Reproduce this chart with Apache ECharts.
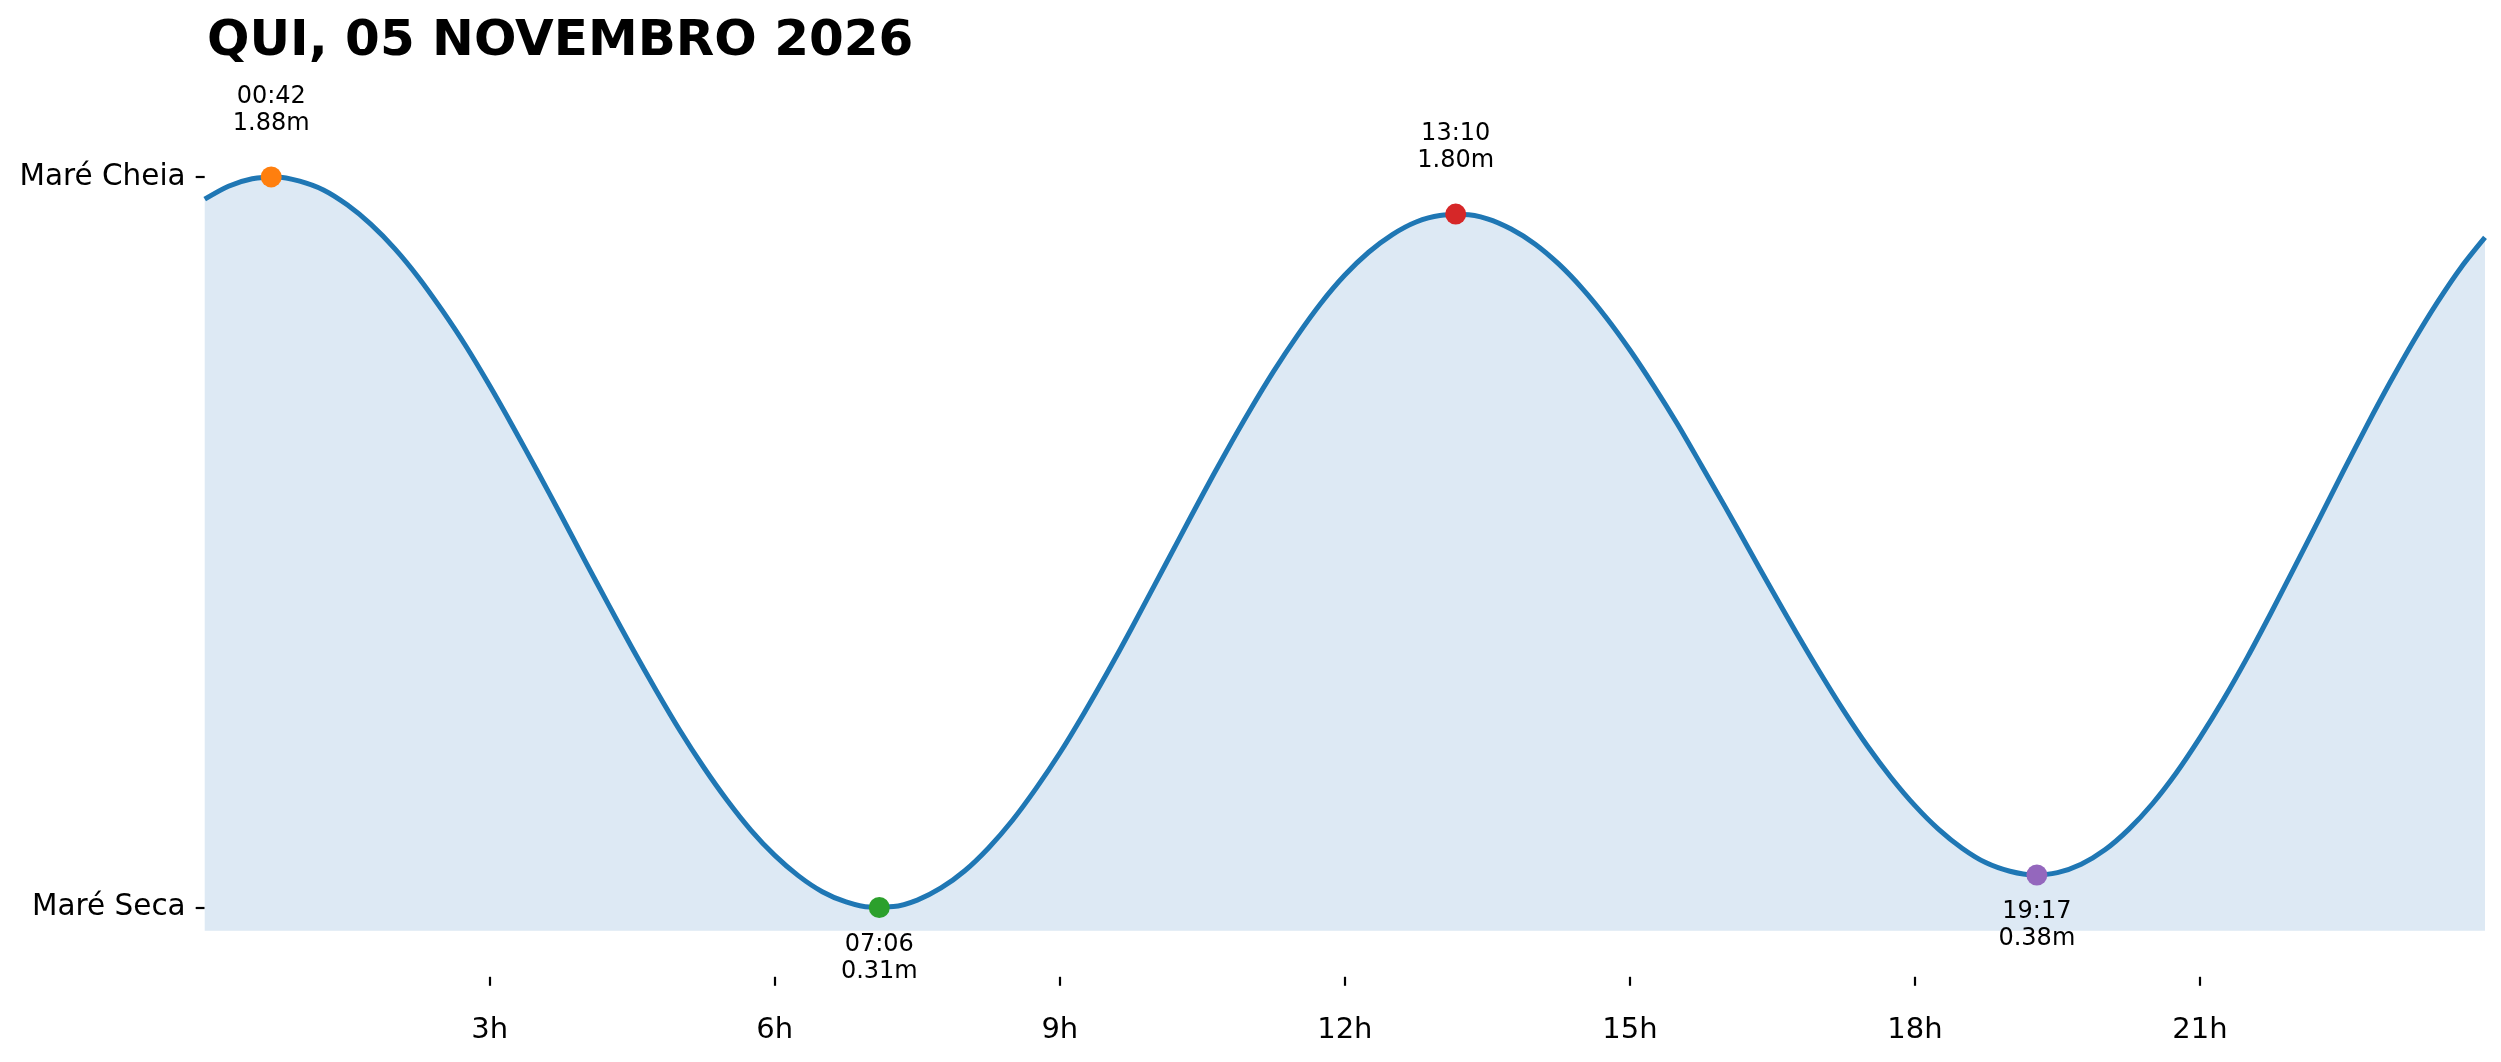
<!DOCTYPE html>
<html>
<head>
<meta charset="utf-8">
<script src="https://cdn.jsdelivr.net/npm/echarts@6/dist/echarts.min.js"></script>
<style>
html,body{margin:0;padding:0;background:#fff;}
#chart{width:2501px;height:1062px;}
</style>
</head>
<body>
<div id="chart"></div>
<script>
// ---- data ----
const titleText = 'QUI, 05 NOVEMBRO 2026';
const timeHours = [
  0, 0.25, 0.5, 0.75, 1.0, 1.25, 1.5, 1.75, 2.0, 2.25, 2.5, 2.75, 3.0, 3.25, 3.5, 3.75,
  4.0, 4.25, 4.5, 4.75, 5.0, 5.25, 5.5, 5.75, 6.0, 6.25, 6.5, 6.75, 7.0, 7.25, 7.5, 7.75,
  8.0, 8.25, 8.5, 8.75, 9.0, 9.25, 9.5, 9.75, 10.0, 10.25, 10.5, 10.75, 11.0, 11.25, 11.5, 11.75,
  12.0, 12.25, 12.5, 12.75, 13.0, 13.25, 13.5, 13.75, 14.0, 14.25, 14.5, 14.75, 15.0, 15.25, 15.5, 15.75,
  16.0, 16.25, 16.5, 16.75, 17.0, 17.25, 17.5, 17.75, 18.0, 18.25, 18.5, 18.75, 19.0, 19.25, 19.5, 19.75,
  20.0, 20.25, 20.5, 20.75, 21.0, 21.25, 21.5, 21.75, 22.0, 22.25, 22.5, 22.75, 23.0, 23.25, 23.5, 23.75, 24.0
];
const tideLevels = [
  1.832, 1.860, 1.876, 1.880, 1.871, 1.852, 1.820, 1.778, 1.726, 1.664, 1.593, 1.516, 1.431, 1.341, 1.248, 1.153,
  1.056, 0.961, 0.867, 0.777, 0.691, 0.612, 0.540, 0.476, 0.422, 0.378, 0.344, 0.322, 0.311, 0.312, 0.326, 0.352,
  0.389, 0.438, 0.497, 0.566, 0.642, 0.726, 0.815, 0.908, 1.004, 1.100, 1.196, 1.289, 1.378, 1.462, 1.539, 1.609,
  1.669, 1.718, 1.756, 1.783, 1.797, 1.799, 1.790, 1.768, 1.736, 1.693, 1.640, 1.578, 1.508, 1.431, 1.349, 1.261,
  1.172, 1.081, 0.990, 0.901, 0.815, 0.733, 0.657, 0.589, 0.529, 0.478, 0.437, 0.406, 0.388, 0.380, 0.385, 0.403,
  0.434, 0.478, 0.533, 0.599, 0.675, 0.758, 0.848, 0.944, 1.043, 1.143, 1.244, 1.343, 1.438, 1.528, 1.611, 1.686, 1.750
];
const extremeLabels = ['00:42', '07:06', '13:10', '19:17'];
const extremeHours = [0.7, 7.1, 13.1667, 19.2833];
const extremeLevels = [1.88, 0.31, 1.80, 0.38];
const extremeKinds = ['high', 'low', 'high', 'low'];
const extremeColors = ['#ff7f0e', '#2ca02c', '#d62728', '#9467bd'];
const xTickValues = [3, 6, 9, 12, 15, 18, 21];
const yTickValues = [0.31, 1.88];
const yTickLabels = ['Maré Seca', 'Maré Cheia'];

const FONT = 'DejaVu Sans';
const chart = echarts.init(document.getElementById('chart'));

const lineData = timeHours.map((t, i) => [t, tideLevels[i]]);
const extremeSeries = extremeHours.map((t, i) => ({
  type: 'scatter',
  z: 5,
  symbol: 'circle',
  symbolSize: 21,
  itemStyle: { color: extremeColors[i], opacity: 1 },
  data: [[t, extremeLevels[i]]],
  label: {
    show: true,
    position: extremeKinds[i] === 'high' ? 'top' : 'bottom',
    distance: extremeKinds[i] === 'high' ? 29 : 13,
    formatter: () => extremeLabels[i] + '\n' + extremeLevels[i].toFixed(2) + 'm',
    fontFamily: FONT,
    fontSize: 24,
    lineHeight: 27,
    color: '#000',
    align: 'center'
  },
  emphasis: { disabled: true }
}));

chart.setOption({
  animation: false,
  backgroundColor: '#fff',
  title: {
    text: titleText,
    left: 202,
    top: 12,
    textStyle: { fontFamily: FONT, fontSize: 50, fontWeight: 'bold', color: '#000' }
  },
  grid: { left: 204.7, right: 16, top: 74.5, bottom: 131.2, containLabel: false },
  xAxis: {
    type: 'value',
    min: 0,
    max: 24,
    interval: 3,
    offset: 46,
    axisLine: { show: false },
    splitLine: { show: false },
    axisTick: { show: true, customValues: xTickValues, length: 9, lineStyle: { color: '#000', width: 2.2 } },
    axisLabel: {
      show: true,
      customValues: xTickValues,
      formatter: v => v + 'h',
      margin: 39,
      fontFamily: FONT,
      fontSize: 29,
      color: '#000'
    }
  },
  yAxis: {
    type: 'value',
    min: 0.26,
    max: 2.1,
    axisLine: { show: false },
    splitLine: { show: false },
    axisTick: { show: true, customValues: yTickValues, length: 9, lineStyle: { color: '#000', width: 2.2 } },
    axisLabel: {
      show: true,
      customValues: yTickValues,
      formatter: v => {
        const i = yTickValues.findIndex(y => Math.abs(y - v) < 1e-6);
        return i >= 0 ? yTickLabels[i] : '';
      },
      margin: 19,
      padding: [5, 0, 0, 0],
      fontFamily: FONT,
      fontSize: 29.5,
      color: '#000'
    }
  },
  series: [
    {
      type: 'line',
      data: lineData,
      smooth: 0.3,
      symbol: 'none',
      z: 2,
      lineStyle: { color: '#1f77b4', width: 5, join: 'round' },
      areaStyle: { color: 'rgb(221,233,244)', opacity: 1, origin: 'start' },
      emphasis: { disabled: true }
    },
    ...extremeSeries
  ]
});
</script>
</body>
</html>
